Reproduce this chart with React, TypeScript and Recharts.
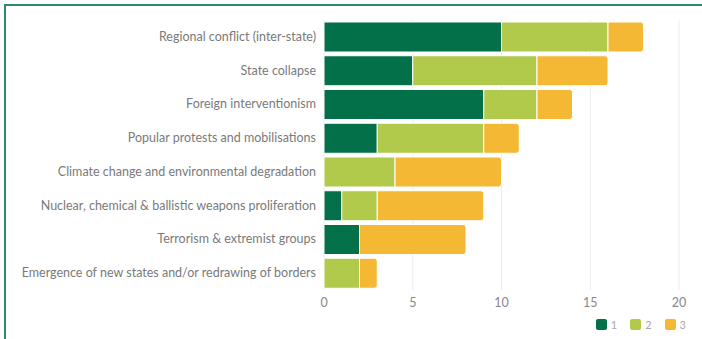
import React from 'react';
import { BarChart, Bar, XAxis, YAxis, CartesianGrid, Legend } from 'recharts';

const categories = [
  'Regional conflict (inter-state)',
  'State collapse',
  'Foreign interventionism',
  'Popular protests and mobilisations',
  'Climate change and environmental degradation',
  'Nuclear, chemical & ballistic weapons proliferation',
  'Terrorism & extremist groups',
  'Emergence of new states and/or redrawing of borders',
];
const rank1 = [10, 5, 9, 3, 0, 1, 2, 0];
const rank2 = [6, 7, 3, 6, 4, 2, 0, 2];
const rank3 = [2, 4, 2, 2, 6, 6, 6, 1];
const xTicks = [0, 5, 10, 15, 20];

const series = [
  { key: 'r1', name: '1', color: '#03704a' },
  { key: 'r2', name: '2', color: '#b1ca4b' },
  { key: 'r3', name: '3', color: '#f4b834' },
];

const data = categories.map((c, i) => ({ name: c, r1: rank1[i], r2: rank2[i], r3: rank3[i] }));

const font = 'Lato, "Noto Sans", sans-serif';

const CatTick = (props: any) => {
  const { x, y, payload } = props;
  return (
    <text x={x} y={y} dy={4} textAnchor="end" fill="#7a7a7a" fontSize={12.5} fontFamily={font}>
      {payload.value}
    </text>
  );
};

const LegendBox = () => (
  <div style={{ display: 'flex', justifyContent: 'flex-end', paddingRight: 16, paddingTop: 8, fontFamily: font, fontSize: 11, color: '#aaa' }}>
    {series.map((s) => (
      <div key={s.key} style={{ display: 'flex', alignItems: 'center', marginLeft: 13 }}>
        <span style={{ display: 'inline-block', width: 11, height: 11, borderRadius: 2, background: s.color, marginRight: 4 }} />
        <span>{s.name}</span>
      </div>
    ))}
  </div>
);

export default function App() {
  return (
    <div style={{ position: 'absolute', left: 0, top: 0, width: 702, height: 339, background: '#fff' }}>
      <div style={{ position: 'absolute', left: 4, top: 4, width: 720, height: 360, borderTop: '2px solid #2f8a68', borderLeft: '2px solid #2f8a68', boxSizing: 'border-box' }} />
      <BarChart
        width={702}
        height={339}
        data={data}
        layout="vertical"
        margin={{ top: 20, right: 23, bottom: 5, left: 0 }}
        barSize={30}
        style={{ position: 'absolute', left: 0, top: 0 }}
      >
        <CartesianGrid horizontal={false} stroke="#ececec" />
        <XAxis
          type="number"
          domain={[0, 20]}
          ticks={xTicks}
          axisLine={false}
          tickLine={false}
          height={20}
          tick={{ fill: '#888', fontSize: 12.5, fontFamily: font }}
        />
        <YAxis
          type="category"
          dataKey="name"
          width={324}
          axisLine={false}
          tickLine={false}
          interval={0}
          tick={<CatTick />}
        />
        <Legend
          verticalAlign="bottom"
          height={24}
          content={<LegendBox />}
          wrapperStyle={{ left: 0, width: 702 }}
        />
        {series.map((s, i) => (
          <Bar
            key={s.key}
            dataKey={s.key}
            name={s.name}
            stackId="a"
            fill={s.color}
            stroke="#fff"
            strokeWidth={1}
            radius={i === 2 ? [0, 3, 3, 0] : 0}
            isAnimationActive={false}
          />
        ))}
      </BarChart>
    </div>
  );
}
